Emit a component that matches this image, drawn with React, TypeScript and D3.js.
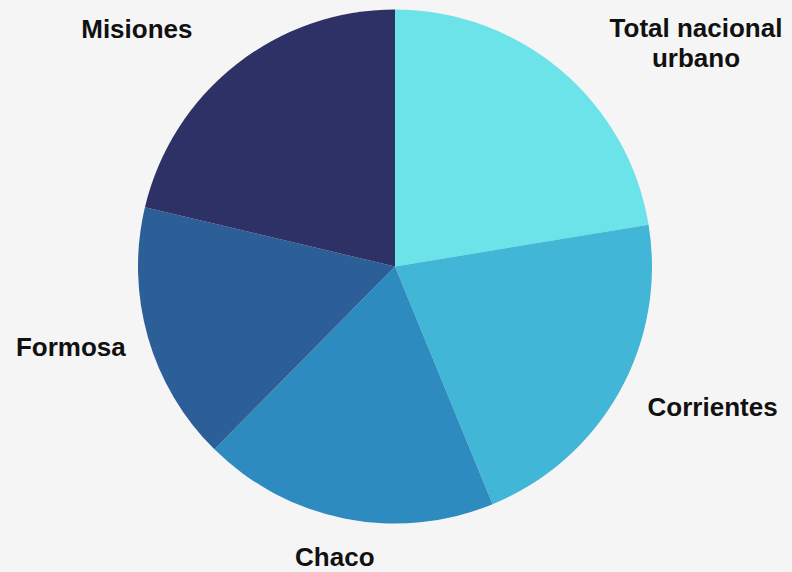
import React, { useEffect, useRef } from "react";
import * as d3 from "d3";

// categories, clockwise from 12 o'clock
const categories = ["Total nacional urbano", "Corrientes", "Chaco", "Formosa", "Misiones"];
// share of the pie
const values = [22.4, 21.4, 18.6, 16.3, 21.3];
const colors = ["#6be3e8", "#42b6d6", "#2e8bbf", "#2c5e97", "#2e3165"];
// label lines (multi-line label for the first slice)
const labelLines = [["Total nacional", "urbano"], ["Corrientes"], ["Chaco"], ["Formosa"], ["Misiones"]];

const WIDTH = 792;
const HEIGHT = 572;

export default function App() {
  const svgRef = useRef<SVGSVGElement>(null);

  useEffect(() => {
    const svg = d3.select(svgRef.current);
    svg.selectChildren().remove();

    const cx = 395,
      cy = 266.5,
      radius = 257;

    svg.append("rect").attr("width", WIDTH).attr("height", HEIGHT).attr("fill", "#f5f5f5");

    const g = svg.append("g").attr("transform", `translate(${cx},${cy})`);

    const pie = d3
      .pie<number>()
      .sort(null)
      .value((d) => d);
    const arcs = pie(values);

    const arc = d3.arc<d3.PieArcDatum<number>>().innerRadius(0).outerRadius(radius);

    g.selectAll("path")
      .data(arcs)
      .enter()
      .append("path")
      .attr("d", arc)
      .attr("fill", (d, i) => colors[i])
      .append("title")
      .text((d, i) => `${categories[i]}: ${values[i]}`);

    // labels around the pie
    const labelR = radius * 1.17;
    const fontSize = 26;
    const lineH = 30;
    // hand nudges, like the original placement
    const nudgeX = [20, -10, -2, 20, -16];
    const nudgeY = [5.5, -6, -5, -3, -2];

    arcs.forEach((d, i) => {
      const mid = (d.startAngle + d.endAngle) / 2;
      const s = Math.sin(mid);
      const px = labelR * s + nudgeX[i];
      const py = -labelR * Math.cos(mid) + nudgeY[i];
      const lines = labelLines[i];
      const text = g
        .append("text")
        .attr("font-family", "'Liberation Sans', Arial, sans-serif")
        .attr("font-weight", "bold")
        .attr("font-size", fontSize)
        .attr("fill", "#111");
      lines.forEach((line, j) => {
        text
          .append("tspan")
          .attr("x", 0)
          .attr("y", py + fontSize * 0.35 + (j - (lines.length - 1) / 2) * lineH)
          .text(line);
      });
      // anchor by side, center multi-line blocks
      const w = (text.node() as SVGTextElement).getBBox().width;
      let centerX = px;
      if (s > 0.3) centerX = px + w / 2;
      else if (s < -0.3) centerX = px - w / 2;
      text.attr("text-anchor", "middle").selectAll("tspan").attr("x", centerX);
    });
  }, []);

  return (
    <svg
      ref={svgRef}
      width={WIDTH}
      height={HEIGHT}
      style={{ position: "absolute", left: 0, top: 0 }}
    ></svg>
  );
}
